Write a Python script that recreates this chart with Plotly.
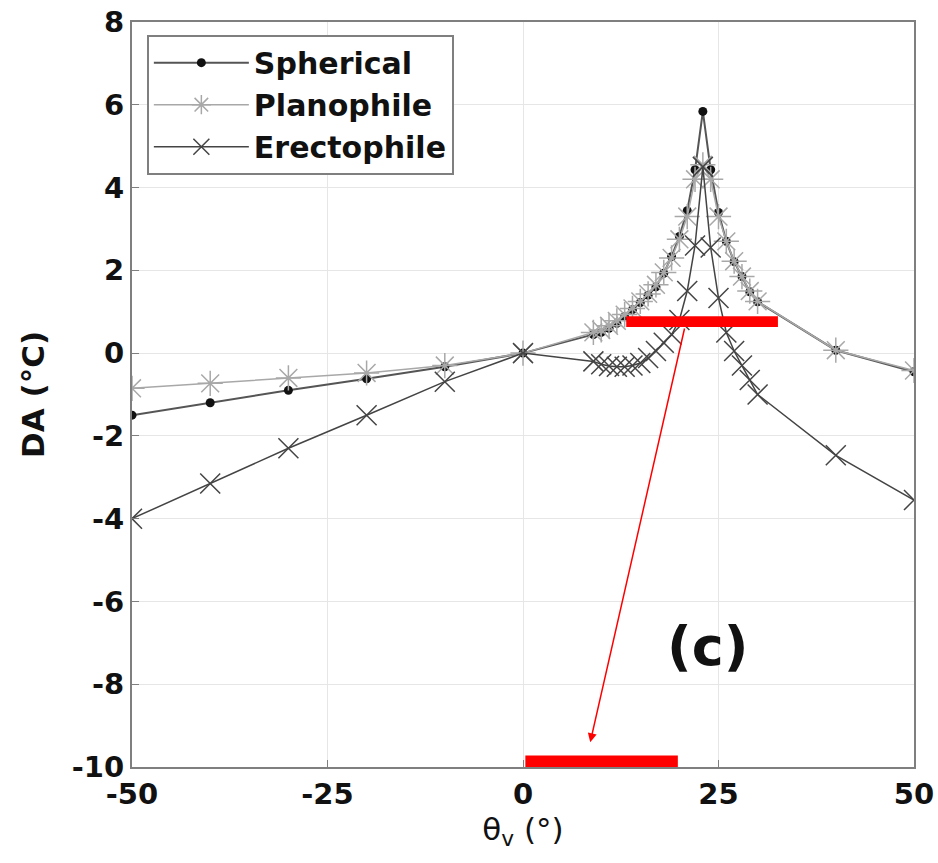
import plotly.graph_objects as go

# view zenith angle (deg), hotspot sampled densely around 23 deg
theta_v = [-50, -40, -30, -20, -10, 0, 9, 10, 11, 12, 13, 14, 15, 16, 17, 18, 19,
           20, 21, 22, 23, 24, 25, 26, 27, 28, 29, 30, 40, 50]

spherical = [-1.5, -1.2, -0.9, -0.62, -0.33, 0, 0.45, 0.5, 0.6, 0.72, 0.88, 1.05, 1.22,
             1.4, 1.6, 1.93, 2.33, 2.82, 3.44, 4.43, 5.84, 4.43, 3.40, 2.70, 2.21, 1.85,
             1.48, 1.24, 0.07, -0.45]
planophile = [-0.85, -0.73, -0.6, -0.48, -0.3, 0, 0.5, 0.56, 0.66, 0.78, 0.93, 1.08, 1.25,
              1.43, 1.65, 1.95, 2.3, 2.75, 3.3, 4.2, 4.55, 4.2, 3.3, 2.7, 2.22, 1.85,
              1.5, 1.25, 0.07, -0.42]
erectophile = [-4.0, -3.15, -2.3, -1.5, -0.69, 0, -0.2, -0.27, -0.31, -0.33, -0.33, -0.3,
               -0.24, -0.12, 0.05, 0.25, 0.45, 0.8, 1.5, 2.6, 4.5, 2.55, 1.33, 0.5, 0.05,
               -0.3, -0.65, -1.0, -2.47, -3.55]

x_ticks = [-50, -25, 0, 25, 50]
y_ticks = [-10, -8, -6, -4, -2, 0, 2, 4, 6, 8]

# highlight marks (annotation, data units)
bar_top = dict(x0=13.2, x1=32.6, y0=0.63, y1=0.89)
bar_bottom = dict(x0=0.3, x1=19.8, y0=-10.0, y1=-9.72)
arrow_from = (20.7, 0.63)
arrow_to = (8.6, -9.4)

BOLD = "DejaVu Sans"

fig = go.Figure()
fig.add_trace(go.Scatter(x=theta_v, y=spherical, name="Spherical", mode="lines+markers",
                         line=dict(color="#555555", width=2),
                         marker=dict(symbol="circle", size=9, color="#111111")))
fig.add_trace(go.Scatter(x=theta_v, y=planophile, name="Planophile", mode="lines+markers",
                         line=dict(color="#a8a8a8", width=1.5),
                         marker=dict(symbol="asterisk-open", size=21,
                                     line=dict(color="#a8a8a8", width=1.5))))
fig.add_trace(go.Scatter(x=theta_v, y=erectophile, name="Erectophile", mode="lines+markers",
                         line=dict(color="#444444", width=1.5),
                         marker=dict(symbol="x-thin-open", size=20,
                                     line=dict(color="#444444", width=1.5))))

for b in (bar_top, bar_bottom):
    fig.add_shape(type="rect", xref="x", yref="y", layer="above",
                  fillcolor="#ff0000", line=dict(width=0), **b)

fig.add_annotation(x=arrow_to[0], y=arrow_to[1], ax=arrow_from[0], ay=arrow_from[1],
                   xref="x", yref="y", axref="x", ayref="y", text="",
                   showarrow=True, arrowhead=2, arrowsize=1.2, arrowwidth=1.5,
                   arrowcolor="#ff0000")
fig.add_annotation(x=23.6, y=-7.1, xref="x", yref="y", text="<b>(c)</b>",
                   showarrow=False, font=dict(family=BOLD, size=54, color="#111111"))

axis_common = dict(showgrid=True, gridcolor="#e6e6e6", gridwidth=1, zeroline=False,
                   showline=True, linecolor="#7f7f7f", linewidth=2, mirror=True,
                   ticks="inside", ticklen=7, tickcolor="#7f7f7f", automargin=False,
                   ticklabeloverflow="allow",
                   tickfont=dict(family=BOLD, size=29, color="#111111", weight="bold"))

fig.update_xaxes(range=[-50, 50], tickvals=x_ticks,
                 ticktext=[str(v) for v in x_ticks],
                 title=dict(text="θ<sub>v</sub> (°)", standoff=7,
                            font=dict(family=BOLD, size=31, color="#111111")),
                 **axis_common)
fig.update_yaxes(range=[-10, 8], tickvals=y_ticks,
                 ticktext=[str(v) for v in y_ticks],
                 title=dict(text="<b>DA (°C)</b>", standoff=18,
                            font=dict(family=BOLD, size=31, color="#111111")),
                 **axis_common)

fig.update_layout(
    width=938, height=863,
    margin=dict(l=132, r=24, t=22, b=96),
    plot_bgcolor="white", paper_bgcolor="white",
    legend=dict(x=0.019, y=0.983, xanchor="left", yanchor="top",
                bgcolor="white", bordercolor="#7f7f7f", borderwidth=2,
                font=dict(family=BOLD, size=30, color="#111111", weight="bold"),
                itemwidth=95, tracegroupgap=0),
    font=dict(family=BOLD),
)

# drop the page's default body margin so the figure sits at the window corner
fig.write_html("out.html", config={"displayModeBar": False},
               post_script="document.body.style.margin='0';")
